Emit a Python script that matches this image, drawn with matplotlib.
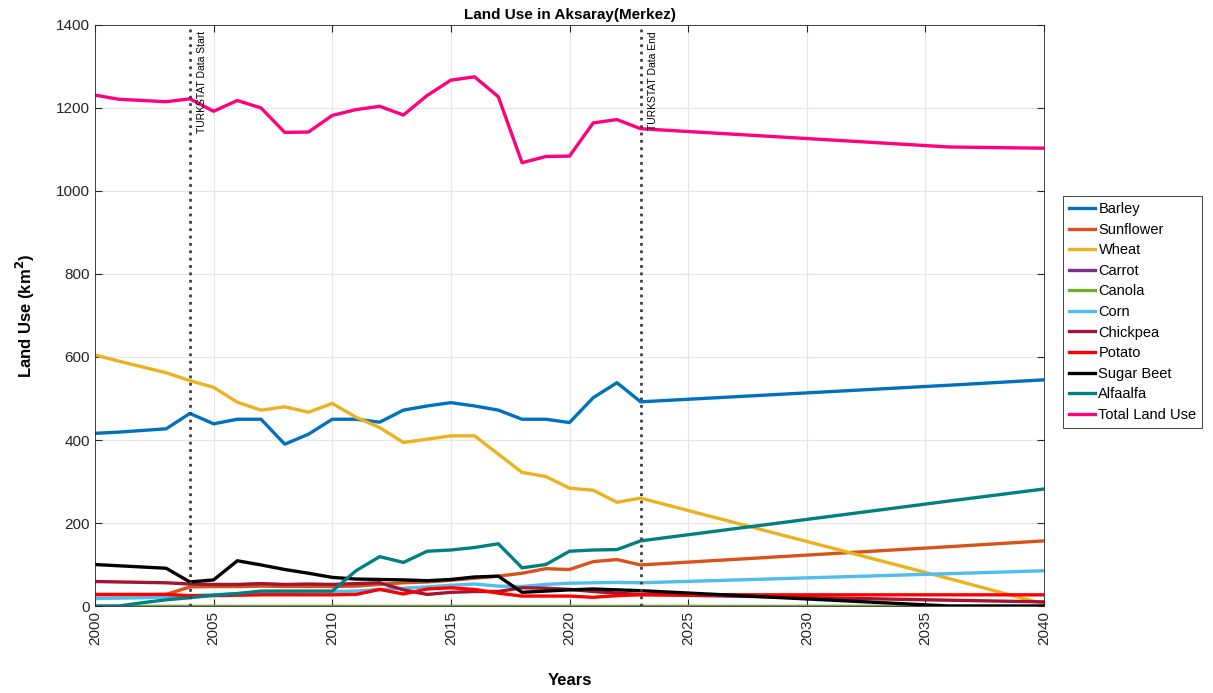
import numpy as np
import matplotlib.pyplot as plt

plt.rcParams['font.family'] = ['Liberation Sans', 'DejaVu Sans']

# years with values (2000-2023 data, then projection)
years = list(range(2000, 2024)) + [2036, 2040]

barley = [416, 419, 423, 427, 464, 439, 450, 450, 390, 414, 450, 450, 443, 472,
          482, 490, 482, 472, 450, 450, 442, 502, 538, 492, 532, 545]
sunflower = [27, 27, 27, 28, 46, 47, 47, 48, 47, 47, 47, 48, 52, 56,
             58, 62, 67, 72, 79, 90, 88, 107, 112, 99, 143, 157]
wheat = [605, 590, 576, 562, 543, 527, 491, 472, 480, 467, 488, 455, 430, 394,
         402, 410, 410, 366, 322, 312, 284, 279, 250, 260, 66, 5]
carrot = [0] * 26
canola = [0] * 26
corn = [18, 19, 20, 22, 25, 27, 30, 32, 33, 34, 35, 36, 40, 43,
        46, 50, 53, 48, 47, 52, 55, 56, 57, 56, 78, 85]
chickpea = [59, 58, 57, 56, 53, 52, 52, 54, 52, 53, 52, 54, 56, 39,
            28, 33, 35, 35, 44, 43, 40, 35, 31, 28, 14, 10]
potato = [28, 28, 28, 28, 25, 25, 26, 27, 27, 27, 27, 28, 40, 29,
          41, 44, 40, 31, 24, 24, 24, 21, 25, 27, 27, 27]
sugar_beet = [100, 97, 94, 91, 58, 63, 109, 99, 88, 79, 69, 65, 64, 63,
              61, 64, 70, 72, 33, 36, 39, 41, 39, 37, 0, 0]
alfaalfa = [0, 0, 8, 15, 20, 26, 30, 36, 36, 36, 36, 85, 119, 105,
            132, 135, 141, 150, 92, 100, 132, 135, 136, 157, 253, 282]
total = [1231, 1221, 1218, 1215, 1222, 1192, 1218, 1200, 1141, 1142, 1182, 1196,
         1204, 1183, 1230, 1267, 1275, 1227, 1068, 1083, 1084, 1164, 1172, 1150,
         1106, 1103]

names = ['Barley', 'Sunflower', 'Wheat', 'Carrot', 'Canola', 'Corn', 'Chickpea',
         'Potato', 'Sugar Beet', 'Alfaalfa', 'Total Land Use']
series = [barley, sunflower, wheat, carrot, canola, corn, chickpea,
          potato, sugar_beet, alfaalfa, total]
colors = ['#0072BD', '#D95319', '#EDB120', '#7E2F8E', '#77AC30', '#4DBEEE',
          '#A2142F', '#FF0000', '#000000', '#008080', '#FF007F']

data_start = 2004
data_end = 2023

fig = plt.figure(figsize=(12.13, 6.93), dpi=100)
ax = fig.add_axes([0.0783, 0.1255, 0.7824, 0.8385])

for name, vals, c in zip(names, series, colors):
    ax.plot(years, vals, color=c, lw=2.4, label=name)

ax.axvline(data_start, color='#404040', ls=':', lw=2)
ax.axvline(data_end, color='#404040', ls=':', lw=2)
ax.text(data_start + 0.3, 1385, 'TURKSTAT Data Start', rotation=90,
        va='top', ha='left', fontsize=7.5)
ax.text(data_end + 0.3, 1385, 'TURKSTAT Data End', rotation=90,
        va='top', ha='left', fontsize=7.5)

ax.set_xlim(2000, 2040)
ax.set_ylim(0, 1400)
ax.set_xticks(range(2000, 2041, 5))
ax.set_yticks(range(0, 1401, 200))
ax.tick_params(axis='x', labelrotation=90)
ax.tick_params(direction='in', labelsize=11, colors='#262626',
               top=True, right=True, length=5)
ax.grid(True, color='#e6e6e6', lw=0.8)
for s in ax.spines.values():
    s.set_color('#262626')
    s.set_linewidth(0.6)

ax.set_title('Land Use in Aksaray(Merkez)', fontsize=11, fontweight='bold', pad=4)
ax.set_xlabel('Years', fontsize=12, fontweight='bold', labelpad=20)
ax.set_ylabel('Land Use (km$\\mathbf{^2}$)', fontsize=12, fontweight='bold', labelpad=14)

leg = ax.legend(loc='center left', bbox_to_anchor=(1.012, 0.506), fontsize=10.5,
                handlelength=1.8, handletextpad=0.25, labelspacing=0.45,
                borderpad=0.4, fancybox=False, edgecolor='#262626', framealpha=1)
leg.get_frame().set_linewidth(0.6)

fig.savefig('out.png', dpi=100)
